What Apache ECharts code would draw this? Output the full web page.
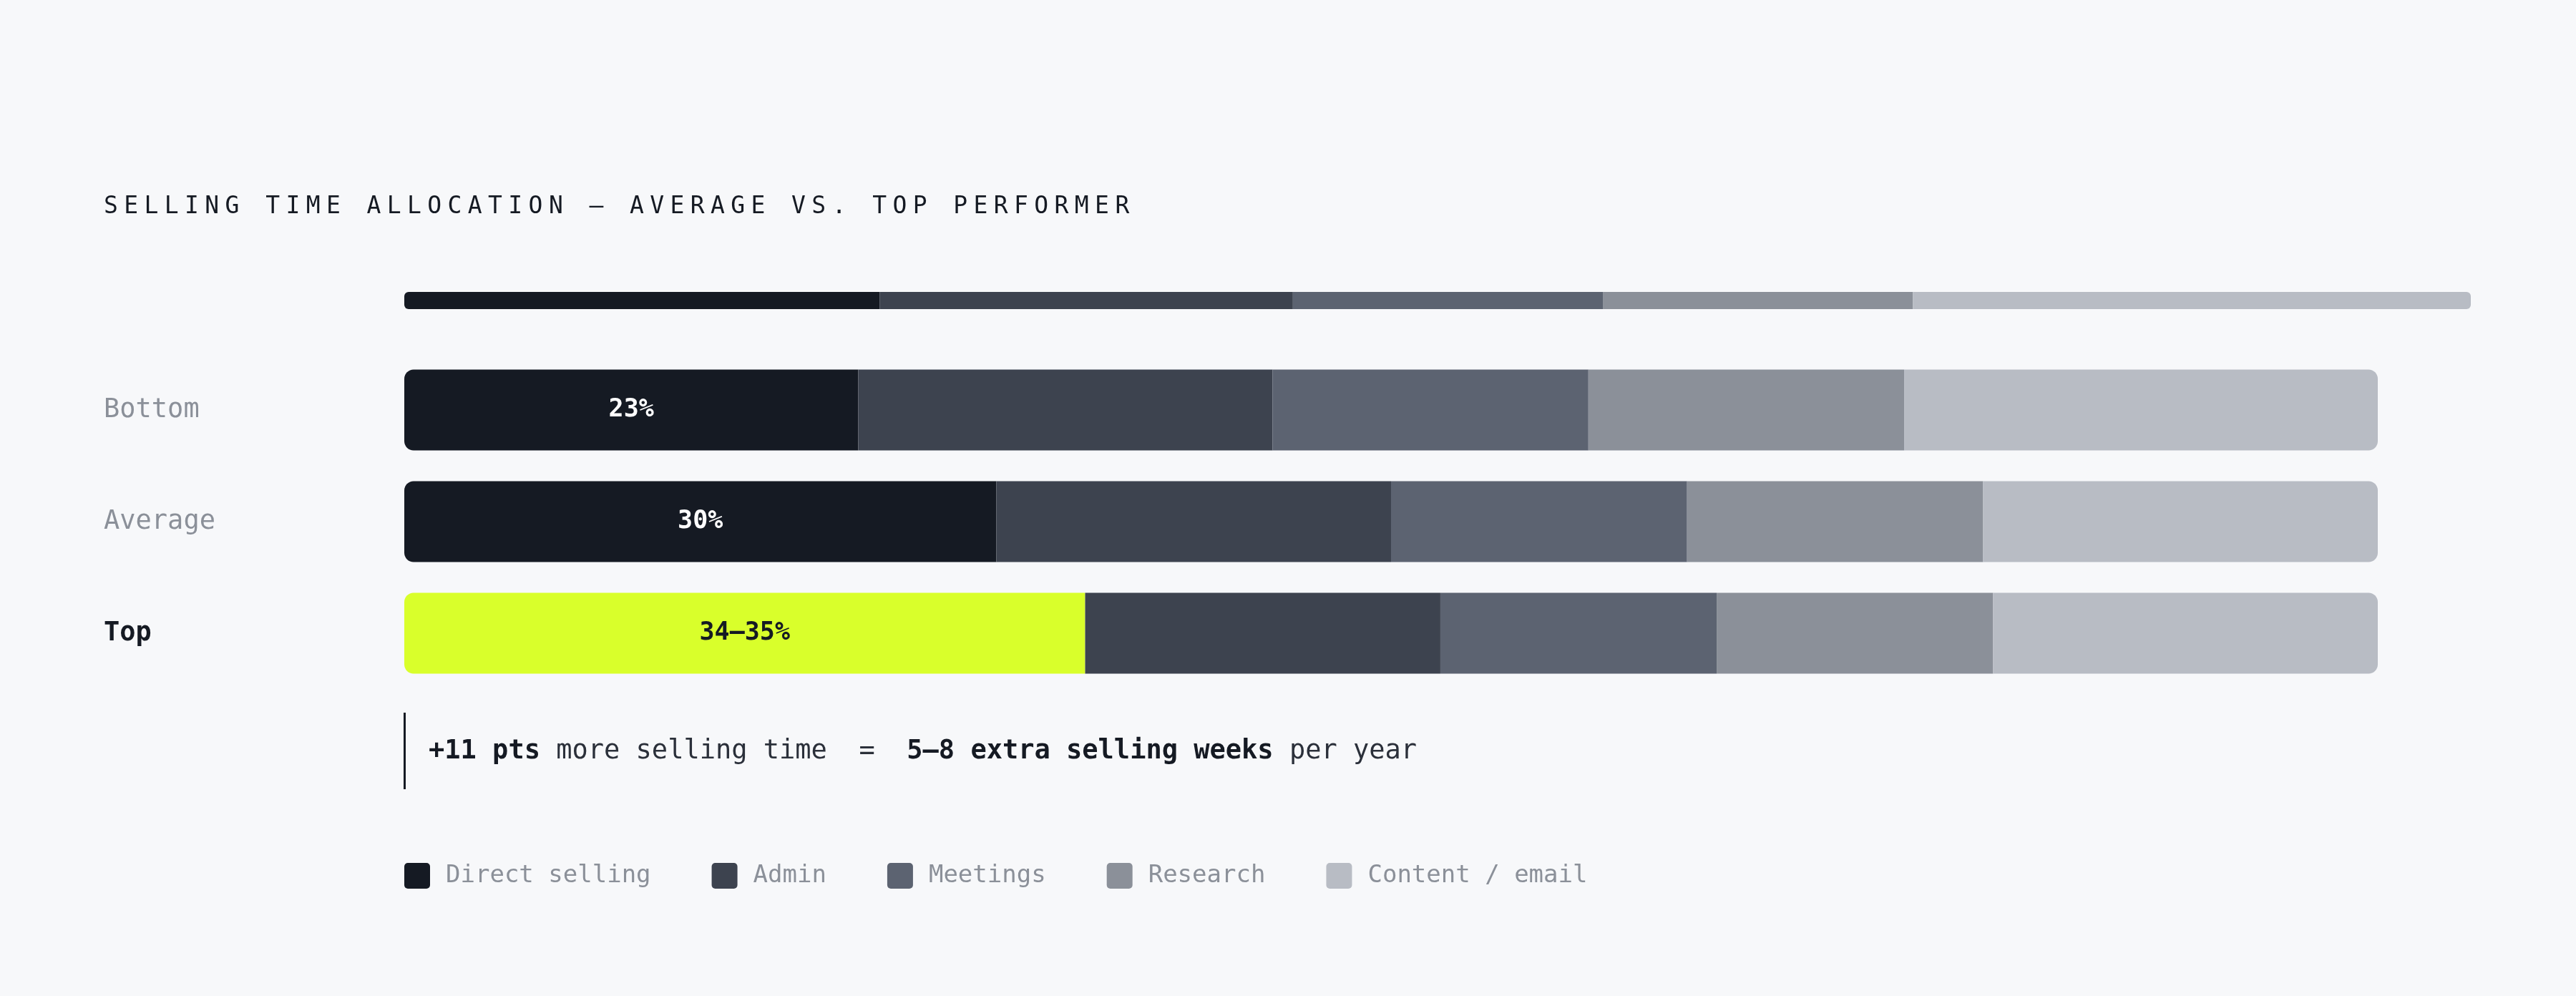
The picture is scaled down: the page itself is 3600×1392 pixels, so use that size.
<!DOCTYPE html>
<html><head><meta charset="utf-8">
<script src="https://cdn.jsdelivr.net/npm/echarts@6/dist/echarts.min.js"></script>
<style>html,body{margin:0;padding:0;background:#f7f8fa}#c{width:3600px;height:1392px}</style>
</head><body><div id="c"></div>
<script>
const TITLE = 'SELLING TIME ALLOCATION — AVERAGE VS. TOP PERFORMER';
const categories = ['Bottom', 'Average', 'Top'];
const seriesNames = ['Direct selling', 'Admin', 'Meetings', 'Research', 'Content / email'];
const directSelling = [23, 30, 34.5];
const admin = [21, 20, 18];
const meetings = [16, 15, 14];
const research = [16, 15, 14];
const contentEmail = [24, 20, 19.5];
const directLabels = ['23%', '30%', '34–35%'];
const overviewValues = [23, 20, 15, 15, 27];

const colors = ['#151a23', '#3d434f', '#5c6371', '#8b9099', '#b8bcc4'];
const highlight = '#d9ff2b';
const MONO = "'DejaVu Sans Mono', 'Liberation Mono', monospace";

// letter-spaced title (canvas letterSpacing)
const origFill = CanvasRenderingContext2D.prototype.fillText;
CanvasRenderingContext2D.prototype.fillText = function (t) {
  if (t === TITLE && 'letterSpacing' in this) {
    const prev = this.letterSpacing;
    this.letterSpacing = '8.4px';
    const r = origFill.apply(this, arguments);
    this.letterSpacing = prev;
    return r;
  }
  return origFill.apply(this, arguments);
};

const chart = echarts.init(document.getElementById('c'), null, { renderer: 'canvas' });

const R = 13, r = 6;
const rowData = [directSelling, admin, meetings, research, contentEmail];

const series = [];
// overview thin bar
seriesNames.forEach((name, i) => {
  series.push({
    name, type: 'bar', stack: 'ov', xAxisIndex: 0, yAxisIndex: 0, barWidth: 24,
    silent: true,
    itemStyle: {
      color: colors[i],
      borderRadius: i === 0 ? [r, 0, 0, r] : (i === seriesNames.length - 1 ? [0, r, r, 0] : 0)
    },
    data: [overviewValues[i]]
  });
});
// main rows
seriesNames.forEach((name, i) => {
  const s = {
    name, type: 'bar', stack: 'rows', xAxisIndex: 1, yAxisIndex: 1, barWidth: 113,
    silent: true,
    itemStyle: {
      color: colors[i],
      borderRadius: i === 0 ? [R, 0, 0, R] : (i === seriesNames.length - 1 ? [0, R, R, 0] : 0)
    },
    data: rowData[i].slice()
  };
  if (i === 0) {
    s.data = rowData[0].map((v, k) => {
      const isTop = categories[k] === 'Top';
      return {
        value: v,
        itemStyle: isTop ? { color: highlight } : undefined,
        label: { color: isTop ? '#151a23' : '#ffffff' }
      };
    });
    s.label = {
      show: true, position: 'inside',
      fontFamily: MONO, fontSize: 35, fontWeight: 'bold',
      formatter: p => directLabels[p.dataIndex]
    };
  }
  series.push(s);
});

chart.setOption({
  animation: false,
  backgroundColor: '#f7f8fa',
  title: {
    text: TITLE, left: 145, top: 269, padding: 0,
    textStyle: { fontFamily: MONO, fontSize: 33, fontWeight: 'normal', color: '#151a23', lineHeight: 40 }
  },
  legend: {
    data: seriesNames, left: 565, top: 1206, padding: 0,
    itemWidth: 36, itemHeight: 36, itemGap: 85, selectedMode: false,
    icon: 'path://M5,0H31A5,5,0,0,1,36,5V31A5,5,0,0,1,31,36H5A5,5,0,0,1,0,31V5A5,5,0,0,1,5,0Z',
    textStyle: { fontFamily: MONO, fontSize: 34, color: '#8b9099', padding: [0, 0, 0, 17], lineHeight: 36 }
  },
  grid: [
    { left: 565, width: 2888, top: 408, height: 24 },
    { left: 565, width: 2758, top: 495, height: 468 }
  ],
  xAxis: [
    { type: 'value', gridIndex: 0, min: 0, max: 100, show: false },
    { type: 'value', gridIndex: 1, min: 0, max: 100, show: false }
  ],
  yAxis: [
    { type: 'category', gridIndex: 0, data: ['Overview'], show: false },
    {
      type: 'category', gridIndex: 1, data: categories, inverse: true,
      axisLine: { show: false }, axisTick: { show: false }, splitLine: { show: false },
      axisLabel: {
        align: 'left', margin: 420,
        formatter: v => v === 'Top' ? '{b|' + v + '}' : '{a|' + v + '}',
        rich: {
          a: { fontFamily: MONO, fontSize: 37, color: '#8b9099' },
          b: { fontFamily: MONO, fontSize: 37, color: '#151a23', fontWeight: 'bold' }
        }
      }
    }
  ],
  graphic: [
    { type: 'rect', silent: true, shape: { x: 564, y: 996, width: 3, height: 107 }, style: { fill: '#151a23' } },
    {
      type: 'text', silent: true, x: 599, y: 1050,
      style: {
        text: '{b|+11 pts}{r| }{r|more selling time}{r|  }{r|=}{r|  }{b|5–8 extra selling weeks}{r| }{r|per year}',
        verticalAlign: 'middle', align: 'left',
        fontFamily: MONO, fontSize: 37, fill: '#2b303a',
        rich: {
          b: { fontFamily: MONO, fontSize: 37, fontWeight: 'bold', fill: '#151a23' },
          r: { fontFamily: MONO, fontSize: 37, fill: '#2b303a' }
        }
      }
    }
  ],
  series
});
</script></body></html>
